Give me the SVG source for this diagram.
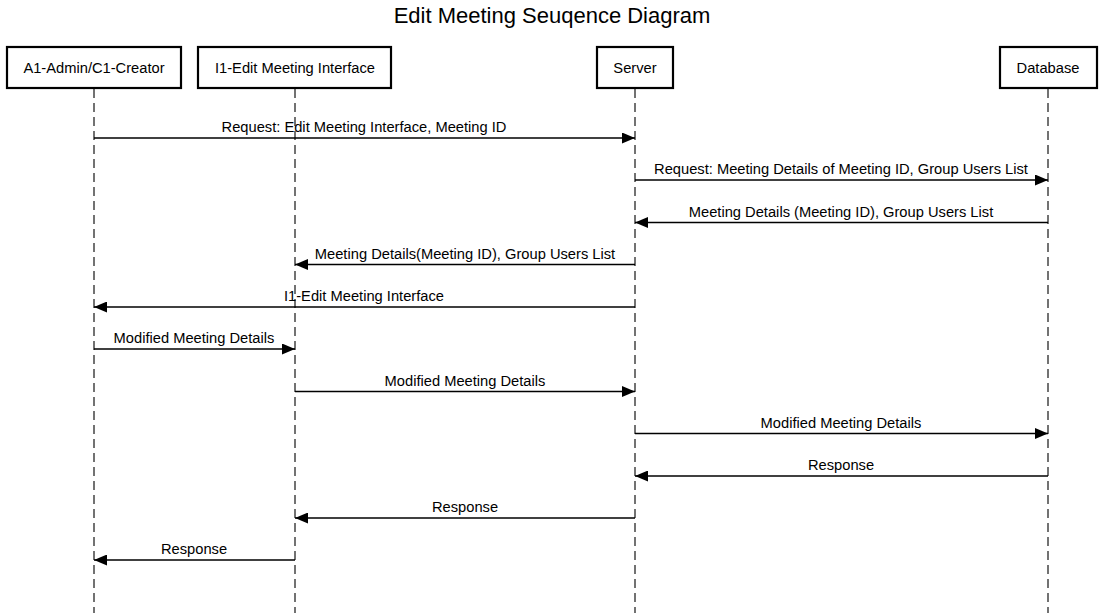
<svg xmlns="http://www.w3.org/2000/svg" width="1103" height="613" viewBox="0 0 1103 613">
<defs>
<marker id="ah" markerWidth="13" markerHeight="11" refX="13" refY="5.5" orient="auto" markerUnits="userSpaceOnUse">
<path d="M0,0 L13,5.5 L0,11 Z" fill="#000"/>
</marker>
<style>
.box{fill:#fff;stroke:#000;stroke-width:2.2}
.lbl{font-family:"Liberation Sans",Arial,sans-serif;font-size:14.7px;fill:#000;text-anchor:middle}
.life{stroke:#444;stroke-width:1.5;stroke-dasharray:9,5;fill:none}
.msg{stroke:#000;stroke-width:1.3;fill:none;marker-end:url(#ah)}
.title{font-family:"Liberation Sans",Arial,sans-serif;font-size:22px;fill:#000;text-anchor:middle}
</style>
</defs>
<rect width="1103" height="613" fill="#fff"/>
<text class="title" x="552" y="23">Edit Meeting Seuqence Diagram</text>
<g id="lifelines">
<line class="life" x1="94" y1="89" x2="94" y2="613"/>
<line class="life" x1="295" y1="89" x2="295" y2="613"/>
<line class="life" x1="635" y1="89" x2="635" y2="613"/>
<line class="life" x1="1048" y1="89" x2="1048" y2="613"/>
</g>
<g id="actor-a1"><rect class="box" x="7" y="47" width="174" height="41"/><text class="lbl" x="94" y="73">A1-Admin/C1-Creator</text></g>
<g id="actor-i1"><rect class="box" x="198" y="47" width="193" height="41"/><text class="lbl" x="295" y="73">I1-Edit Meeting Interface</text></g>
<g id="actor-server"><rect class="box" x="597" y="47" width="76" height="41"/><text class="lbl" x="635" y="73">Server</text></g>
<g id="actor-db"><rect class="box" x="1000" y="47" width="97" height="41"/><text class="lbl" x="1048" y="73">Database</text></g>
<g id="connectors">
<line class="msg" x1="94" y1="138" x2="635" y2="138"/>
<text class="lbl" x="364" y="132">Request: Edit Meeting Interface, Meeting ID</text>
<line class="msg" x1="635" y1="180" x2="1048" y2="180"/>
<text class="lbl" x="841" y="174">Request: Meeting Details of Meeting ID, Group Users List</text>
<line class="msg" x1="1048" y1="222.5" x2="635" y2="222.5"/>
<text class="lbl" x="841" y="217">Meeting Details (Meeting ID), Group Users List</text>
<line class="msg" x1="635" y1="264.5" x2="295" y2="264.5"/>
<text class="lbl" x="465" y="259">Meeting Details(Meeting ID), Group Users List</text>
<line class="msg" x1="635" y1="307" x2="94" y2="307"/>
<text class="lbl" x="364" y="301">I1-Edit Meeting Interface</text>
<line class="msg" x1="94" y1="349" x2="295" y2="349"/>
<text class="lbl" x="194" y="343">Modified Meeting Details</text>
<line class="msg" x1="295" y1="391.5" x2="635" y2="391.5"/>
<text class="lbl" x="465" y="386">Modified Meeting Details</text>
<line class="msg" x1="635" y1="433.5" x2="1048" y2="433.5"/>
<text class="lbl" x="841" y="428">Modified Meeting Details</text>
<line class="msg" x1="1048" y1="476" x2="635" y2="476"/>
<text class="lbl" x="841" y="470">Response</text>
<line class="msg" x1="635" y1="518" x2="295" y2="518"/>
<text class="lbl" x="465" y="512">Response</text>
<line class="msg" x1="295" y1="560" x2="94" y2="560"/>
<text class="lbl" x="194" y="554">Response</text>
</g>
</svg>
